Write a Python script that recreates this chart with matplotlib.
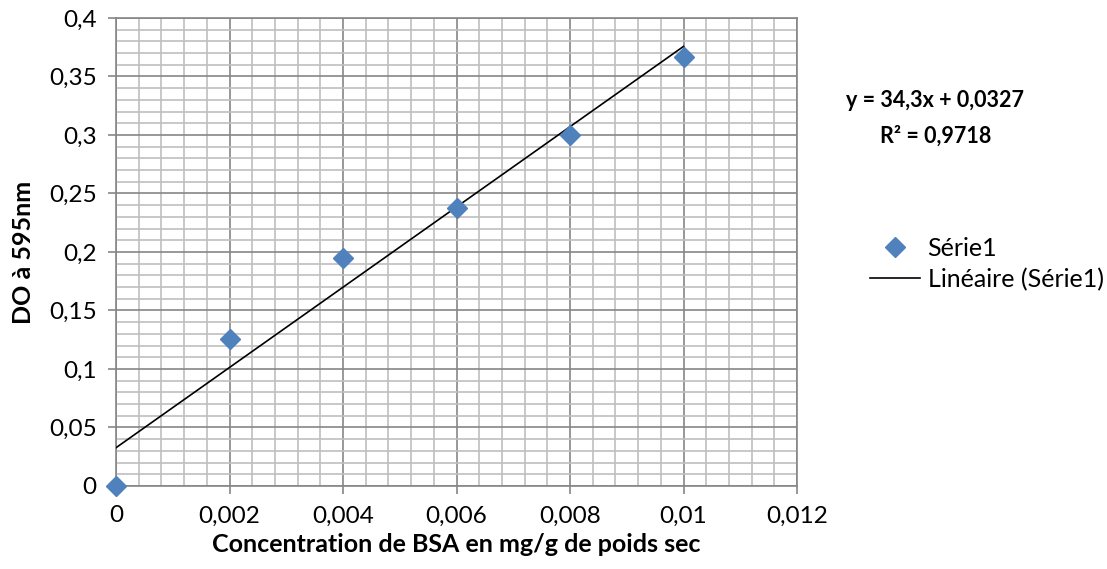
import numpy as np
import matplotlib.pyplot as plt
from matplotlib.ticker import MultipleLocator, FuncFormatter
from matplotlib.lines import Line2D

plt.rcParams['font.family'] = ['Lato', 'DejaVu Sans']

# Gamme étalon BSA
concentration = [0, 0.002, 0.004, 0.006, 0.008, 0.010]
absorbance = [0.0, 0.126, 0.195, 0.238, 0.300, 0.367]

# Droite de tendance (Excel)
pente = 34.3
ordonnee = 0.0327
r2 = 0.9718

bleu = '#4F81BD'
gris_major = '#868686'
gris_minor = '#BFBFBF'


def fr(v):
    return ('%g' % round(v, 6)).replace('.', ',')


fig = plt.figure(figsize=(11.07, 5.69), dpi=100)
ax = fig.add_axes([0.1048, 0.1459, 0.6152, 0.8225])

x_fit = np.array([concentration[0], concentration[-1]])
ax.plot(x_fit, pente * x_fit + ordonnee, color='black', lw=1.2, zorder=3)
ax.plot(concentration, absorbance, linestyle='none', marker='D', markersize=10.5,
        color=bleu, clip_on=False, zorder=4)

ax.set_xlim(0, 0.012)
ax.set_ylim(0, 0.4)
ax.xaxis.set_major_locator(MultipleLocator(0.002))
ax.xaxis.set_minor_locator(MultipleLocator(0.0004))
ax.yaxis.set_major_locator(MultipleLocator(0.05))
ax.yaxis.set_minor_locator(MultipleLocator(0.01))

ax.xaxis.set_major_formatter(FuncFormatter(lambda v, p: fr(v)))
ax.yaxis.set_major_formatter(FuncFormatter(lambda v, p: fr(v)))

ax.grid(which='minor', color=gris_minor, lw=1.2)
ax.grid(which='major', color=gris_major, lw=1.2)
ax.set_axisbelow(True)
for s in ax.spines.values():
    s.set_color(gris_major)
    s.set_linewidth(1.2)

ax.tick_params(which='major', length=6, width=1.2, color=gris_major,
               labelsize=17.5, pad=8)
ax.tick_params(which='minor', length=0)

ax.set_xlabel('Concentration de BSA en mg/g de poids sec', fontsize=18,
              fontweight='bold', labelpad=5)
ax.set_ylabel('DO à 595nm', fontsize=18, fontweight='bold', labelpad=10)

fig.text(0.845, 0.792, f'y = {fr(pente)}x + {fr(ordonnee)}\nR² = {fr(r2)}',
         ha='center', va='center', fontsize=15.5, fontweight='bold', linespacing=1.8)

poignees = [
    Line2D([], [], linestyle='none', marker='D', markersize=10, color=bleu),
    Line2D([], [], color='black', lw=1.2),
]
fig.legend(poignees, ['Série1', 'Linéaire (Série1)'], loc='center left',
           bbox_to_anchor=(0.786, 0.536), frameon=False, fontsize=18,
           borderpad=0, borderaxespad=0, handlelength=2.0, handletextpad=0.3,
           labelspacing=0.3)

fig.savefig('out.png', dpi=100)
